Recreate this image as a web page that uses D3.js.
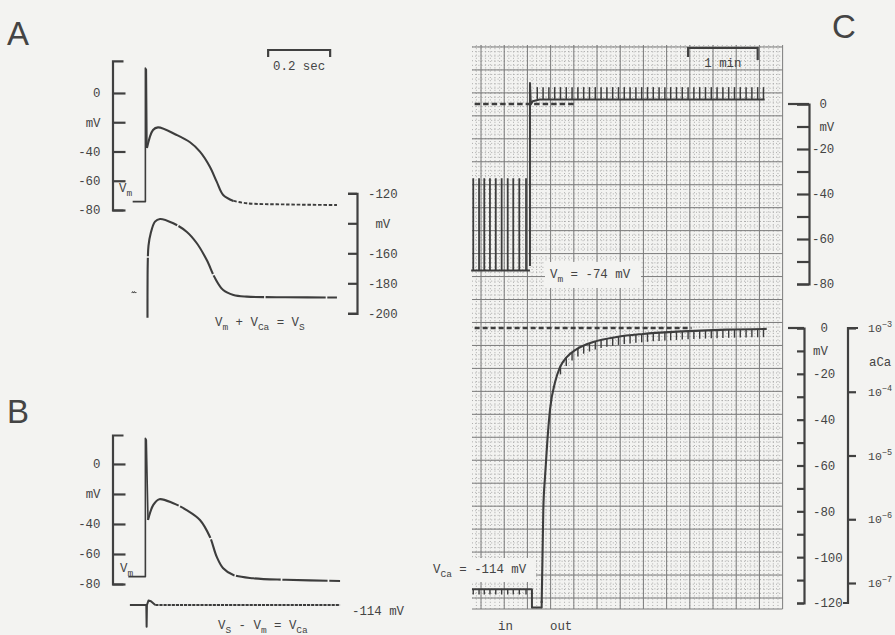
<!DOCTYPE html>
<html>
<head>
<meta charset="utf-8">
<script src="https://cdn.jsdelivr.net/npm/d3@7"></script>
<style>
  body { margin: 0; background: #f3f3f1; }
  svg { display: block; }
  .mono { font-family: "Liberation Mono", "DejaVu Sans Mono", monospace; font-size: 12.4px; fill: #444; white-space: pre; }
  .panel { font-family: "Liberation Sans", Arial, sans-serif; font-size: 33px; fill: #444; }
</style>
</head>
<body>
<div class="chart"></div>
<script>
// ---- values ----
// A / B: time in s (0 = stimulus), potential in mV
const vmASpike = [[-0.043, -74.3], [-0.002, -74.3], [-0.002, 17], [0.001, 16], [0.003, -37.6]];
const vmA = [[0.003, -37.6], [0.0226, -25.3], [0.0387, -23.5],
  [0.099, -28.7], [0.142, -33.7], [0.174, -40.1], [0.206, -50.4], [0.228, -60.6], [0.249, -69.7], [0.282, -73.8]];
const vmATail = [[0.282, -73.8], [0.325, -75.4], [0.45, -76.2], [0.616, -76.6]];
const vsAPre = [[-0.046, -186.5], [-0.043, -185.5], [-0.040, -186.5], [-0.037, -185.5], [-0.034, -186.5], [-0.031, -185.8]];
const vsA = [[0.0048, -203], [0.0058, -165], [0.008, -155], [0.0152, -146.7], [0.029, -138.9], [0.045, -137.1],
  [0.088, -140], [0.131, -145.6], [0.164, -153.3], [0.196, -164.5], [0.223, -176.7], [0.249, -184.5],
  [0.282, -187.8], [0.325, -188.9], [0.45, -189.3], [0.616, -189.5]];
const vmBSpike = [[-0.057, -75.1], [-0.002, -75.1], [-0.002, 17.1], [0.001, 16], [0.0065, -37.3]];
const vmB = [[0.0065, -37.3], [0.0236, -27.3], [0.043, -23.5],
  [0.088, -26.2], [0.131, -30.7], [0.174, -37.3], [0.206, -48.5], [0.228, -61.8], [0.249, -69.5],
  [0.282, -74], [0.346, -76.2], [0.45, -77.2], [0.626, -78]];
const vcaB = [[-0.052, -114], [0.001, -114], [0.002, -128.5], [0.003, -114], [0.008, -111], [0.016, -111.5],
  [0.03, -114], [0.626, -114]];

// C: time in s, potential in mV
const beatsIn = [2.8, 7.8, 12.3, 17.2, 22.2, 27.3, 32.5, 37.3, 42.5, 48.3];
const beatsOut = [58, 63, 68, 73, 78, 83, 88, 93, 98, 103, 108, 113, 118, 123, 128, 133, 138, 143, 148, 153,
  158, 163, 168, 173, 178, 183, 188, 193, 198, 203, 208, 213, 218, 223, 228, 233, 238, 243, 248, 253];
const vmCIn = [[1, -74], [51.7, -74]];
const vmCSpikeTop = -33;
const vmCOut = [[51.7, -72], [51.7, 9.3], [52.4, -0.2], [54, 1.2], [60, 2], [254, 2]];
const vmCBeatTop = 7.5;
const vcaCIn = [[1.7, -114], [53.4, -114], [53.4, -122], [61.8, -122], [61.8, -119]];
const vcaCBeatLow = -116.3;
const vcaCRise = [[61.8, -120], [63.2, -79.3], [64.7, -64.7], [66.6, -49.9], [69, -35.5], [73.3, -23.7],
  [77.6, -17.1], [83.4, -12.7], [92, -9.2], [106.3, -6.1], [126.5, -3.9], [149.1, -2.6], [178.2, -1.6],
  [221.3, -0.7], [255.8, -0.4]];
const vcaCBeatDrop = 3.6;
const zeroTop = [4, 90];
const zeroBot = [4, 191];

// tick values and labels
const mvTicks = [0, -20, -40, -60, -80];
const mvLabels = ["0", "mV", "-40", "-60", "-80"];
const vsTicks = [-120, -140, -160, -180, -200];
const vsLabels = ["-120", " mV", "-160", "-180", "-200"];
const cTopTicks = [0, -10, -20, -30, -40, -50, -60, -70, -80];
const cTopLabels = [" 0", " mV", "-20", "", "-40", "", "-60", "", "-80"];
const cBotTicks = [0, -10, -20, -30, -40, -50, -60, -70, -80, -90, -100, -110, -120];
const cBotLabels = [" 0", "mV", "-20", "", "-40", "", "-60", "", "-80", "", "-100", "", "-120"];
const aCaTicks = [1e-3, 1e-4, 1e-5, 1e-6, 1e-7];
const barA = [0.394, 0.594];
const barC = [188, 248];

const width = 895;
const height = 635;
const ink = "#3d3d3d";

const svg = d3.select(".chart")
    .append("svg")
    .attr("width", width)
    .attr("height", height);

// scales
const xA = d3.scaleLinear().domain([0, 0.2]).range([146, 208]);
const yVmA = d3.scaleLinear().domain([-80, 22]).range([210, 60.8]);
const yVsA = d3.scaleLinear().domain([-200, -120]).range([313.3, 193.3]);
const yVmB = d3.scaleLinear().domain([-80, 19.3]).range([584, 435]);
const yVcaB = d3.scaleLinear().domain([-130, -110]).range([629, 599]);
const xC = d3.scaleLinear().domain([0, 60]).range([470, 539.6]);
const yTopC = d3.scaleLinear().domain([-80, 0]).range([284, 104]);
const yBotC = d3.scaleLinear().domain([-120, 0]).range([603, 328]);
const yCa = d3.scaleLog().domain([1e-7, 1e-3]).range([583, 328]);

// ---- chart paper behind C ----
const paper = svg.append("g");
const paperTop = 45, paperBottom = 609, paperLeft = 472, paperRight = 782.5;
const rowY = d3.range(0, 25).map(k => 598 - k * 22.96);
const minorT = d3.range(1.5, 270, 4).filter(t => xC(t) > paperLeft && xC(t) < paperRight);
paper.selectAll(".minv").data(minorT).enter().append("line")
    .attr("x1", d => xC(d)).attr("x2", d => xC(d))
    .attr("y1", paperTop).attr("y2", paperBottom)
    .attr("stroke", "#8f8f8f").attr("stroke-width", 0.7).attr("stroke-dasharray", "1,2.2");
const minorRows = d3.range(0, 125).map(k => 598 - k * 4.592).filter(y => y > paperTop);
paper.selectAll(".minh").data(minorRows).enter().append("line")
    .attr("x1", paperLeft).attr("x2", paperRight)
    .attr("y1", d => d).attr("y2", d => d)
    .attr("stroke", "#8f8f8f").attr("stroke-width", 0.7).attr("stroke-dasharray", "1,2.2");
const majorT = d3.range(9.5, 271, 20);
paper.selectAll(".majv").data(majorT).enter().append("line")
    .attr("x1", d => xC(d)).attr("x2", d => xC(d))
    .attr("y1", paperTop).attr("y2", paperBottom)
    .attr("stroke", "#7c7c7c").attr("stroke-width", 1);
paper.selectAll(".majh").data(rowY.concat([paperBottom])).enter().append("line")
    .attr("x1", paperLeft).attr("x2", paperRight)
    .attr("y1", d => d).attr("y2", d => d)
    .attr("stroke", "#7c7c7c").attr("stroke-width", 1);

// white patches behind the C labels
svg.append("rect").attr("x", 545).attr("y", 262).attr("width", 96).attr("height", 26).attr("fill", "#f3f3f1");
svg.append("rect").attr("x", 470).attr("y", 558).attr("width", 66).attr("height", 24).attr("fill", "#f3f3f1");

// ---- helpers ----
function trace(data, x, y, opts = {}) {
    const line = d3.line()
        .x(d => x(d[0]))
        .y(d => y(d[1]))
        .curve(opts.curve || d3.curveLinear);
    return svg.append("path")
        .datum(data)
        .attr("d", line)
        .attr("fill", "none")
        .attr("stroke", ink)
        .attr("stroke-width", opts.width || 2.1)
        .attr("stroke-linejoin", "round")
        .attr("stroke-dasharray", opts.dash || null);
}

function styleAxis(g) {
    g.selectAll("path, line").attr("stroke", "#404040").attr("stroke-width", 2.2);
    g.selectAll("text").attr("class", "mono").attr("font-size", null).attr("font-family", null)
        .attr("fill", null);
    g.attr("font-size", null).attr("font-family", null);
}

// parts: plain strings, or {s: "..."} for a subscript
function label(x, y, parts, anchor) {
    const t = svg.append("text").attr("class", "mono").attr("x", x).attr("y", y)
        .attr("text-anchor", anchor || "start");
    let shift = 0;
    parts.forEach(p => {
        const sub = typeof p !== "string";
        const want = sub ? 4 : 0;
        const span = t.append("tspan").attr("dy", want - shift).text(sub ? p.s : p);
        if (sub) span.attr("font-size", 9.5);
        shift = want;
    });
    return t;
}

const smooth = d3.curveCatmullRom.alpha(0.5);

// ---- panel A ----
const axVmA = svg.append("g").attr("transform", "translate(112.5,0)")
    .call(d3.axisLeft(yVmA).tickValues(mvTicks).tickFormat((d, i) => mvLabels[i])
        .tickSizeInner(-13).tickSizeOuter(-11).tickPadding(12));
styleAxis(axVmA);

const axVsA = svg.append("g").attr("transform", "translate(357,0)")
    .call(d3.axisRight(yVsA).tickValues(vsTicks).tickFormat((d, i) => vsLabels[i])
        .tickSizeInner(-9).tickSizeOuter(-9).tickPadding(11));
styleAxis(axVsA);

trace(vmASpike, xA, yVmA, { width: 1.6 });
trace(vmA, xA, yVmA, { curve: smooth });
trace(vmATail, xA, yVmA, { curve: smooth, dash: "3.5,1.8", width: 1.9 });
trace(vsAPre, xA, yVsA, { width: 1 });
trace(vsA, xA, yVsA, { curve: smooth, dash: "60,1.5" });

// scale bar 0.2 sec
svg.append("path")
    .attr("d", `M${xA(barA[0])},57V50H${xA(barA[1])}V57`)
    .attr("fill", "none").attr("stroke", "#404040").attr("stroke-width", 2.2);
label((xA(barA[0]) + xA(barA[1])) / 2, 70, ["0.2 sec"], "middle");

label(119, 192, ["V", { s: "m" }]);
label(215, 326, ["V", { s: "m" }, " + V", { s: "Ca" }, " = V", { s: "S" }]);

// ---- panel B ----
const axVmB = svg.append("g").attr("transform", "translate(112.5,0)")
    .call(d3.axisLeft(yVmB).tickValues(mvTicks).tickFormat((d, i) => mvLabels[i])
        .tickSizeInner(-13).tickSizeOuter(-11).tickPadding(12));
styleAxis(axVmB);

trace(vmBSpike, xA, yVmB, { width: 1.6 });
trace(vmB, xA, yVmB, { curve: smooth, dash: "45,1.6" });
trace(vcaB.slice(0, 7), xA, yVcaB, { width: 2 });
trace(vcaB.slice(6), xA, yVcaB, { width: 2, dash: "3.2,0.9" });

label(120, 572, ["V", { s: "m" }]);
label(352, 615, ["-114 mV"]);
label(218, 629, ["V", { s: "S" }, " - V", { s: "m" }, " = V", { s: "Ca" }]);

// ---- panel C, top: membrane potential ----
svg.append("line")
    .attr("x1", xC(zeroTop[0])).attr("x2", xC(zeroTop[1]))
    .attr("y1", yTopC(0)).attr("y2", yTopC(0))
    .attr("stroke", ink).attr("stroke-width", 2.4).attr("stroke-dasharray", "5.5,3");

trace(vmCIn, xC, yTopC, { width: 1.8 });
svg.selectAll(".spike").data(beatsIn).enter().append("line")
    .attr("x1", d => xC(d)).attr("x2", d => xC(d))
    .attr("y1", yTopC(vmCIn[0][1])).attr("y2", yTopC(vmCSpikeTop))
    .attr("stroke", ink).attr("stroke-width", 1.8);
trace(vmCOut, xC, yTopC, { width: 2 });
svg.selectAll(".beatTop").data(beatsOut).enter().append("line")
    .attr("x1", d => xC(d)).attr("x2", d => xC(d))
    .attr("y1", yTopC(vmCOut[vmCOut.length - 1][1])).attr("y2", yTopC(vmCBeatTop))
    .attr("stroke", ink).attr("stroke-width", 1.5);

const axTopC = svg.append("g").attr("transform", "translate(809,0)")
    .call(d3.axisRight(yTopC).tickValues(cTopTicks).tickFormat((d, i) => cTopLabels[i])
        .tickSizeInner(-12).tickSizeOuter(-12).tickPadding(3));
styleAxis(axTopC);
axTopC.selectAll(".tick text").filter((d, i) => cTopLabels[i] === "").remove();
axTopC.append("line").attr("x1", -21).attr("x2", 0).attr("y1", yTopC(0)).attr("y2", yTopC(0))
    .attr("stroke", "#404040").attr("stroke-width", 2.2);

// scale bar 1 min
svg.append("path")
    .attr("d", `M${xC(barC[0])},57V48H${xC(barC[1])}V60`)
    .attr("fill", "none").attr("stroke", "#404040").attr("stroke-width", 2.2);
label((xC(barC[0]) + xC(barC[1])) / 2, 67, ["1 min"], "middle");
label(550, 278, ["V", { s: "m" }, " = -74 mV"]);

// ---- panel C, bottom: Ca electrode ----
svg.append("line")
    .attr("x1", xC(zeroBot[0])).attr("x2", xC(zeroBot[1]))
    .attr("y1", yBotC(0)).attr("y2", yBotC(0))
    .attr("stroke", ink).attr("stroke-width", 2.4).attr("stroke-dasharray", "5,3");

trace(vcaCIn, xC, yBotC, { width: 2 });
svg.selectAll(".beatIn").data(beatsIn).enter().append("line")
    .attr("x1", d => xC(d)).attr("x2", d => xC(d))
    .attr("y1", yBotC(vcaCIn[0][1])).attr("y2", yBotC(vcaCBeatLow))
    .attr("stroke", ink).attr("stroke-width", 1.4);
const rise = trace(vcaCRise, xC, yBotC, { curve: d3.curveMonotoneX, width: 2.1 });

// beat marks hang from the curve: find the curve height at each beat
const riseNode = rise.node();
function yOnRise(px) {
    let lo = 0, hi = riseNode.getTotalLength();
    for (let i = 0; i < 30; i++) {
        const mid = (lo + hi) / 2;
        if (riseNode.getPointAtLength(mid).x < px) lo = mid; else hi = mid;
    }
    return riseNode.getPointAtLength(lo).y;
}
const dropPx = yBotC(-vcaCBeatDrop) - yBotC(0);
svg.selectAll(".beatBot").data(beatsOut.filter(t => t >= 75)).enter().append("line")
    .attr("x1", d => xC(d)).attr("x2", d => xC(d))
    .attr("y1", d => yOnRise(xC(d))).attr("y2", d => yOnRise(xC(d)) + dropPx)
    .attr("stroke", ink).attr("stroke-width", 1.4);

const axBotC = svg.append("g").attr("transform", "translate(804,0)")
    .call(d3.axisRight(yBotC).tickValues(cBotTicks).tickFormat((d, i) => cBotLabels[i])
        .tickSizeInner(-7).tickSizeOuter(-7).tickPadding(9));
styleAxis(axBotC);
axBotC.selectAll(".tick text").filter((d, i) => cBotLabels[i] === "").remove();
axBotC.append("line").attr("x1", -16).attr("x2", 0).attr("y1", yBotC(0)).attr("y2", yBotC(0))
    .attr("stroke", "#404040").attr("stroke-width", 2.2);

// aCa axis (labels squeezed so the exponent stays inside the frame)
const axCa = svg.append("g").attr("transform", "translate(848,0)")
    .call(d3.axisRight(yCa).tickValues(aCaTicks).tickFormat(() => "10")
        .tickSizeInner(8).tickSizeOuter(0).tickPadding(12));
styleAxis(axCa);
axCa.selectAll(".tick text").style("font-size", "11.5px");
axCa.select(".domain").remove();
axCa.append("path")
    .attr("d", `M10,${yCa(1e-3)}H0V${yBotC(-120)}H-5`)
    .attr("fill", "none").attr("stroke", "#404040").attr("stroke-width", 2.2);
axCa.selectAll(".tick text").each(function (d) {
    d3.select(this).append("tspan").attr("dy", -5).attr("font-size", 8.5)
        .text("\u2212" + Math.round(-Math.log10(d)));
});
label(869, 366, ["aCa"]);

label(433, 573, ["V", { s: "Ca" }, " = -114 mV"]);
label(498, 630, ["in"]);
label(550, 630, ["out"]);

// panel letters
svg.append("text").attr("class", "panel").attr("x", 7).attr("y", 45).text("A");
svg.append("text").attr("class", "panel").attr("x", 7).attr("y", 423).text("B");
svg.append("text").attr("class", "panel").attr("x", 832).attr("y", 38).text("C");
</script>
</body>
</html>
